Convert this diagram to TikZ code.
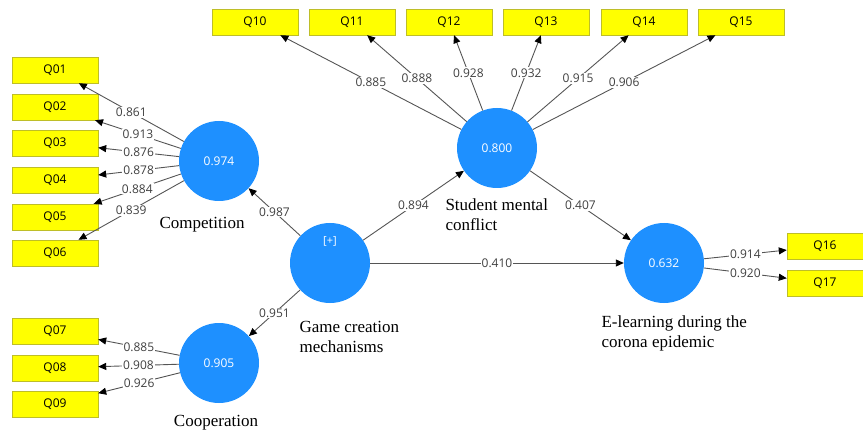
\documentclass[tikz,border=0pt]{standalone}
\usepackage{fontspec}
\setmainfont{Liberation Serif}
\newfontfamily\uifont{Open Sans}
\usetikzlibrary{arrows.meta,positioning}
\definecolor{lvblue}{RGB}{30,144,255}
\definecolor{indyellow}{RGB}{255,255,0}
\definecolor{indborder}{RGB}{190,190,40}
\definecolor{pathgray}{RGB}{85,85,85}
\definecolor{numgray}{RGB}{64,64,64}

\begin{document}
\begin{tikzpicture}[x=1pt,y=-1pt,
  lv/.style={circle,fill=lvblue,minimum size=80pt,inner sep=0pt,text=white,
    font=\uifont\fontsize{12}{14}\selectfont},
  ind/.style={draw=indborder,fill=indyellow,minimum width=86pt,minimum height=26pt,
    inner sep=0pt,font=\uifont\fontsize{12}{14}\selectfont},
  arr/.style={draw=pathgray,line width=0.9pt,-{Triangle[length=8pt,width=7pt,color=black]}},
  ld/.style={fill=white,inner sep=1pt,text=numgray,font=\uifont\fontsize{12}{14}\selectfont},
  cname/.style={font=\fontsize{17}{20}\selectfont,align=left}
]
\useasboundingbox (0,0) rectangle (863,433);

% latent variables
\node[lv] (game) at (330,263) {};
\node[text=white,font=\uifont\fontsize{11}{13}\selectfont] (gamemark) at (330,241) {[+]};
\node[lv] (comp) at (219,161) {0.974};
\node[lv] (coop) at (219,363) {0.905};
\node[lv] (smc) at (497,148) {0.800};
\node[lv] (elearn) at (664,263) {0.632};

\node[cname] (compname) at (202,225) {Competition};
\node[cname] (coopname) at (216,423) {Cooperation};
\node[cname,anchor=west] (gamename) at (296,337) {Game creation\\mechanisms};
\node[cname,anchor=west] (smcname) at (442,215) {Student mental\\conflict};
\node[cname,anchor=west] (elearnname) at (598,333) {E-learning during the\\corona epidemic};

% indicators
\node[ind] (q01) at (55,70) {Q01};
\node[ind] (q02) at (55,107) {Q02};
\node[ind] (q03) at (55,143) {Q03};
\node[ind] (q04) at (55,180) {Q04};
\node[ind] (q05) at (55,217) {Q05};
\node[ind] (q06) at (55,253) {Q06};
\node[ind] (q07) at (55,331) {Q07};
\node[ind] (q08) at (55,368) {Q08};
\node[ind] (q09) at (55,404) {Q09};
\node[ind] (q10) at (255,22) {Q10};
\node[ind] (q11) at (352,22) {Q11};
\node[ind] (q12) at (449,22) {Q12};
\node[ind] (q13) at (546,22) {Q13};
\node[ind] (q14) at (644,22) {Q14};
\node[ind] (q15) at (741,22) {Q15};
\node[ind,minimum width=76pt] (q16) at (825,246) {Q16};
\node[ind,minimum width=76pt] (q17) at (825,283) {Q17};

% structural paths
\draw[arr] (game) -- node[ld]{0.987} (comp);
\draw[arr] (game) -- node[ld]{0.951} (coop);
\draw[arr] (game) -- node[ld]{0.894} (smc);
\draw[arr] (game) -- node[ld]{0.410} (elearn);
\draw[arr] (smc) -- node[ld]{0.407} (elearn);

% outer loadings
\draw[arr] (comp) -- node[ld]{0.861} (q01);
\draw[arr] (comp) -- node[ld]{0.913} (q02);
\draw[arr] (comp) -- node[ld]{0.876} (q03);
\draw[arr] (comp) -- node[ld]{0.878} (q04);
\draw[arr] (comp) -- node[ld]{0.884} (q05);
\draw[arr] (comp) -- node[ld]{0.839} (q06);
\draw[arr] (coop) -- node[ld]{0.885} (q07);
\draw[arr] (coop) -- node[ld]{0.908} (q08);
\draw[arr] (coop) -- node[ld]{0.926} (q09);
\draw[arr] (smc) -- node[ld]{0.885} (q10);
\draw[arr] (smc) -- node[ld]{0.888} (q11);
\draw[arr] (smc) -- node[ld]{0.928} (q12);
\draw[arr] (smc) -- node[ld]{0.932} (q13);
\draw[arr] (smc) -- node[ld]{0.915} (q14);
\draw[arr] (smc) -- node[ld]{0.906} (q15);
\draw[arr] (elearn) -- node[ld]{0.914} (q16);
\draw[arr] (elearn) -- node[ld]{0.920} (q17);
\end{tikzpicture}
\end{document}
